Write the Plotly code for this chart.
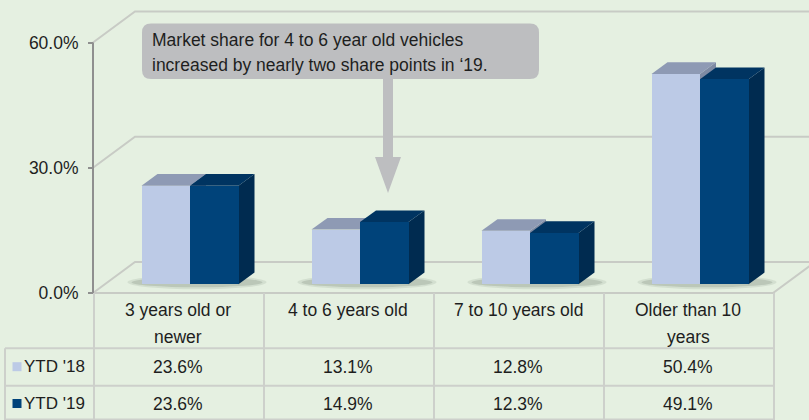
import plotly.graph_objects as go

# ---------------- data ----------------
categories = ["3 years old or newer", "4 to 6 years old", "7 to 10 years old", "Older than 10 years"]
header_lines = [["3 years old or", "newer"], ["4 to 6 years old"], ["7 to 10 years old"], ["Older than 10", "years"]]
series_names = ["YTD '18", "YTD '19"]
ytd18 = [23.6, 13.1, 12.8, 50.4]
ytd19 = [23.6, 14.9, 12.3, 49.1]
y_ticks = [0, 30, 60]
y_tick_text = ["0.0%", "30.0%", "60.0%"]
callout_lines = ["Market share for 4 to 6 year old vehicles", "increased by nearly two share points in \u201819."]

# ---------------- geometry / style ----------------
W, H = 809, 420
ML, MT, MB = 88, 0, 124
PW, PH = W - ML, H - MT - MB
X0_PX, UX = 93, 170.0      # px of x=0, px per category
Y0_PX, UY = 293, 4.175     # px of 0 %, px per %
xr = [(ML - X0_PX) / UX, (W - X0_PX) / UX]
yr = [-(MT + PH - Y0_PX) / UY, (Y0_PX - MT) / UY]

def px(p):
    return (p - ML) / PW

def py(p):
    return (MT + PH - p) / PH

WALL_DX, WALL_DY = 42 / UX, 31 / UY
SHIFT_X, SHIFT_Y = 12 / UX, 8.7 / UY
BAR_W = 48.5 / UX
DEP_X, DEP_Y = 16 / UX, 11.7 / UY

FONT = "Liberation Sans, Arial, sans-serif"
FS = 17.5
BG = "#E5F0E1"
GRID = "#C8CBC5"
TLINE = "#CDD0CB"
TXT = "#1E1E1E"
colors = [
    dict(front="#BCCAE6", top="#8E9AB4", side="#7E8AA3"),
    dict(front="#00437A", top="#003461", side="#002B50"),
]
series_vals = [ytd18, ytd19]
n = len(categories)

shapes = []
# back wall gridlines + diagonals
for t in y_ticks:
    shapes.append(dict(type="path", xref="x", yref="y", layer="below",
                       path=f"M0,{t} L{WALL_DX},{t + WALL_DY} L{xr[1] + 1},{t + WALL_DY}",
                       line=dict(color=GRID, width=2)))
# floor front edge and right diagonal
shapes.append(dict(type="path", xref="x", yref="y", layer="below",
                   path=f"M0,0 L{n},0 L{n + WALL_DX},{WALL_DY}",
                   line=dict(color=GRID, width=2)))
# y axis line
shapes.append(dict(type="line", xref="x", yref="y", layer="below",
                   x0=0, x1=0, y0=0, y1=y_ticks[-1], line=dict(color="#8F8F8F", width=2)))

# soft bar shadows
for i in range(n):
    c = i + 0.5 + SHIFT_X
    for grow, alpha in [(4, 0.10), (0, 0.16)]:
        x_l = c - BAR_W - (10 + grow) / UX
        x_r = c + BAR_W + DEP_X + (8 + grow) / UX
        shapes.append(dict(type="circle", xref="x", yref="y", layer="below",
                           x0=x_l, x1=x_r, y0=SHIFT_Y - (3 + grow / 2) / UY, y1=SHIFT_Y + (7 + grow / 2) / UY,
                           fillcolor=f"rgba(60,75,60,{alpha})", line=dict(width=0)))

# 3D faces of bars
for i in range(n):
    c = i + 0.5 + SHIFT_X
    for s in range(2):
        v = series_vals[s][i]
        x_l = c - BAR_W + s * BAR_W
        x_r = x_l + BAR_W
        yt = SHIFT_Y + v
        yb = SHIFT_Y
        shapes.append(dict(type="path", xref="x", yref="y", layer="below",
                           path=f"M{x_r},{yb} L{x_r},{yt} L{x_r + DEP_X},{yt + DEP_Y} L{x_r + DEP_X},{yb + DEP_Y} Z",
                           fillcolor=colors[s]["side"], line=dict(width=0)))
        shapes.append(dict(type="path", xref="x", yref="y", layer="below",
                           path=f"M{x_l},{yt} L{x_r},{yt} L{x_r + DEP_X},{yt + DEP_Y} L{x_l + DEP_X},{yt + DEP_Y} Z",
                           fillcolor=colors[s]["top"], line=dict(width=0)))

fig = go.Figure()
for s in range(2):
    fig.add_trace(go.Bar(
        x=[i + 0.5 + SHIFT_X - BAR_W / 2 + s * BAR_W for i in range(n)],
        y=series_vals[s], base=[SHIFT_Y] * n, width=BAR_W,
        name=series_names[s], marker=dict(color=colors[s]["front"], line=dict(width=0)),
        hoverinfo="skip", showlegend=False))

# ---------------- data table ----------------
ann = []
col_edges_px = [X0_PX + i * UX for i in range(n + 1)]
tbl_top, tbl_h1, tbl_h2, tbl_bot = 293, 348.3, 385.7, 420
for yy in [tbl_h1, tbl_h2, tbl_bot - 0.5]:
    shapes.append(dict(type="line", xref="paper", yref="paper",
                       x0=px(5), x1=px(col_edges_px[-1] + 1), y0=py(yy), y1=py(yy),
                       line=dict(color=TLINE, width=2)))
for e in col_edges_px:
    shapes.append(dict(type="line", xref="paper", yref="paper",
                       x0=px(e + 1), x1=px(e + 1), y0=py(tbl_top), y1=py(tbl_bot),
                       line=dict(color=TLINE, width=2)))
shapes.append(dict(type="line", xref="paper", yref="paper",
                   x0=px(5), x1=px(5), y0=py(tbl_h1), y1=py(tbl_bot),
                   line=dict(color=TLINE, width=2)))

for i, lines in enumerate(header_lines):
    for k, ln in enumerate(lines):
        ann.append(dict(x=i + 0.5, xref="x", y=py(310 + 27 * k), yref="paper",
                        text=ln, showarrow=False, xanchor="center", yanchor="middle",
                        font=dict(family=FONT, size=FS, color=TXT)))
row_y = [366.7, 403.5]
for s in range(2):
    shapes.append(dict(type="rect", xref="paper", yref="paper",
                       x0=px(12.5), x1=px(21.5), y0=py(row_y[s] + 4.5), y1=py(row_y[s] - 4.5),
                       fillcolor=colors[s]["front"], line=dict(width=0)))
    ann.append(dict(x=px(21.5), xref="paper", y=py(row_y[s]), yref="paper",
                    text=series_names[s], showarrow=False, xanchor="left", yanchor="middle",
                    font=dict(family=FONT, size=FS - 0.5, color=TXT)))
    for i in range(n):
        ann.append(dict(x=i + 0.5, xref="x", y=py(row_y[s]), yref="paper",
                        text=f"{series_vals[s][i]:.1f}%", showarrow=False,
                        xanchor="center", yanchor="middle",
                        font=dict(family=FONT, size=FS, color=TXT)))

# ---------------- callout ----------------
bx0, bx1, by0, by1, rr = 142, 539, 23.5, 79, 9
def P(a, b):
    return f"{px(a)},{py(b)}"
box_path = (f"M{P(bx0 + rr, by0)} L{P(bx1 - rr, by0)} Q{P(bx1, by0)} {P(bx1, by0 + rr)} "
            f"L{P(bx1, by1 - rr)} Q{P(bx1, by1)} {P(bx1 - rr, by1)} L{P(bx0 + rr, by1)} "
            f"Q{P(bx0, by1)} {P(bx0, by1 - rr)} L{P(bx0, by0 + rr)} Q{P(bx0, by0)} {P(bx0 + rr, by0)} Z")
shapes.append(dict(type="path", xref="paper", yref="paper", path=box_path,
                   fillcolor="#BDBEC0", line=dict(width=0), layer="above"))
ax, sw, hw, hy0, hy1 = 388, 10, 26, 157, 193
arrow_path = (f"M{P(ax - sw / 2, by1)} L{P(ax + sw / 2, by1)} L{P(ax + sw / 2, hy0)} "
              f"L{P(ax + hw / 2, hy0)} L{P(ax, hy1)} L{P(ax - hw / 2, hy0)} L{P(ax - sw / 2, hy0)} Z")
shapes.append(dict(type="path", xref="paper", yref="paper", path=arrow_path,
                   fillcolor="#BDBEC0", line=dict(width=0), layer="above"))
for k, ln in enumerate(callout_lines):
    ann.append(dict(x=px(150), xref="paper", y=py(40 + 25 * k), yref="paper",
                    text=ln, showarrow=False, xanchor="left", yanchor="middle",
                    font=dict(family=FONT, size=FS, color=TXT)))

fig.update_layout(
    width=W, height=H,
    margin=dict(l=ML, r=0, t=MT, b=MB, pad=0),
    paper_bgcolor=BG, plot_bgcolor=BG,
    barmode="overlay", bargap=0,
    shapes=shapes, annotations=ann,
    xaxis=dict(range=xr, domain=[0, 1], showgrid=False, zeroline=False, showline=False,
               showticklabels=False, ticks="", fixedrange=True),
    yaxis=dict(range=yr, anchor="free", position=(X0_PX - ML) / PW,
               showgrid=False, zeroline=False, showline=False,
               tickmode="array", tickvals=y_ticks, ticktext=y_tick_text,
               ticks="outside", ticklen=5, tickwidth=2, tickcolor="#8F8F8F",
               ticklabelstandoff=6,
               tickfont=dict(family=FONT, size=FS, color=TXT), fixedrange=True),
    font=dict(family=FONT),
)

fig.write_html("out.html", config={"displayModeBar": False},
               post_script="document.body.style.margin='0';document.body.style.overflow='hidden';")
